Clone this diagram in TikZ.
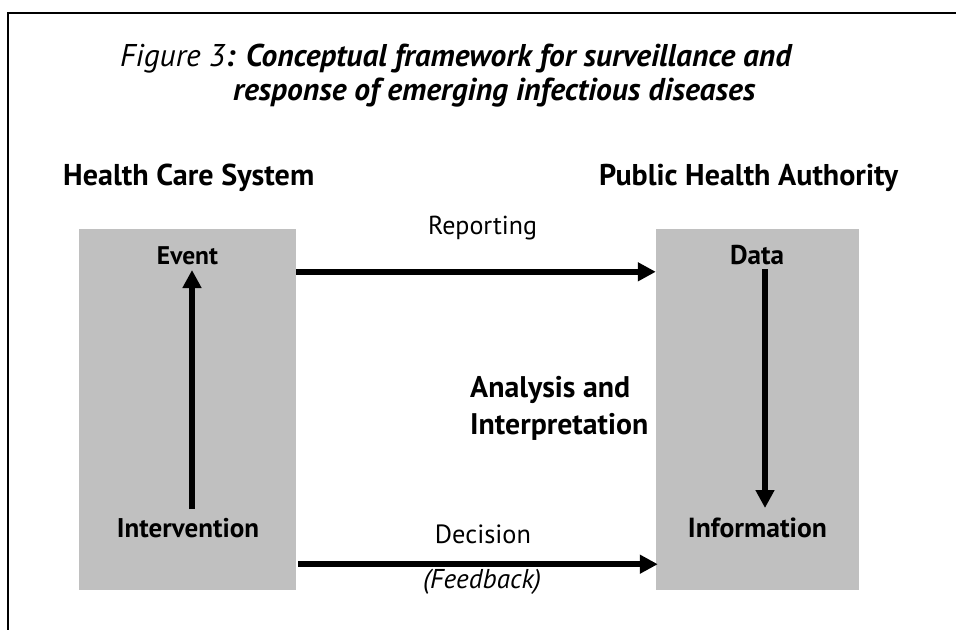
\documentclass[tikz,border=0pt]{standalone}
\usepackage{fontspec}
\setmainfont{PT Sans}
\usetikzlibrary{arrows.meta}
\definecolor{boxgray}{HTML}{C0C0C0}
\newcommand{\fitw}[2]{\resizebox{#1}{!}{#2}}
\begin{document}
\begin{tikzpicture}[x=1pt,y=-1pt,
  panel/.style={fill=boxgray, draw=none, inner sep=0, minimum width=#1, minimum height=361pt},
  lbl/.style={inner sep=0, anchor=base},
  lblw/.style={inner sep=0, anchor=base west},
  arr/.style={line width=5.5pt, -{Triangle[length=18pt,width=18pt]}},
  frame/.style={line width=2pt}]
\useasboundingbox (0,0) rectangle (956,630);
% frame
\draw[frame] (956,13) -- (8,13) -- (8,630);
% title
\node[lblw] (title1) at (120,66) {\fitw{671pt}{\itshape Figure 3\bfseries: Conceptual framework for surveillance and}};
\node[lblw] (title2) at (233,100) {\fitw{522pt}{\bfseries\itshape response of emerging infectious diseases}};
% headers
\node[lblw] (hcs) at (63,185) {\fitw{251pt}{\bfseries Health Care System}};
\node[lblw] (pha) at (599,185) {\fitw{299pt}{\bfseries Public Health Authority}};
% boxes
\node[panel=217pt] (lbox) at (187.5,409.5) {};
\node[panel=203pt] (rbox) at (757.5,409.5) {};
% box texts
\node[lbl] (event) at (187.5,264) {\fitw{61pt}{\bfseries Event}};
\node[lbl] (interv) at (188,537) {\fitw{142pt}{\bfseries Intervention}};
\node[lbl] (data) at (757,264) {\fitw{54pt}{\bfseries Data}};
\node[lbl] (info) at (757.5,537) {\fitw{139pt}{\bfseries Information}};
% middle labels
\node[lbl] (rep) at (482.5,234) {\fitw{109pt}{Reporting}};
\node[lbl] (dec) at (483,543) {\fitw{96pt}{Decision}};
\node[lbl] (feed) at (482,588) {\fitw{118pt}{\itshape (Feedback)}};
\node[lblw] (ana1) at (470,397) {\fitw{160pt}{\bfseries Analysis and}};
\node[lblw] (ana2) at (470,434) {\fitw{178pt}{\bfseries Interpretation}};
% arrows
\draw[arr] ([yshift=-43pt]lbox.north east) -- ([yshift=-43pt]rbox.north west);
\draw[arr] ([xshift=2pt,yshift=26pt]lbox.south east) -- ([xshift=2pt,yshift=26pt]rbox.south west);
\draw[arr] ([xshift=4pt,yshift=28pt]interv.base) -- ([xshift=4.5pt,yshift=-6pt]event.base);
\draw[arr] ([xshift=8pt,yshift=-5pt]data.base) -- ([xshift=7.5pt,yshift=29pt]info.base);
\end{tikzpicture}
\end{document}
